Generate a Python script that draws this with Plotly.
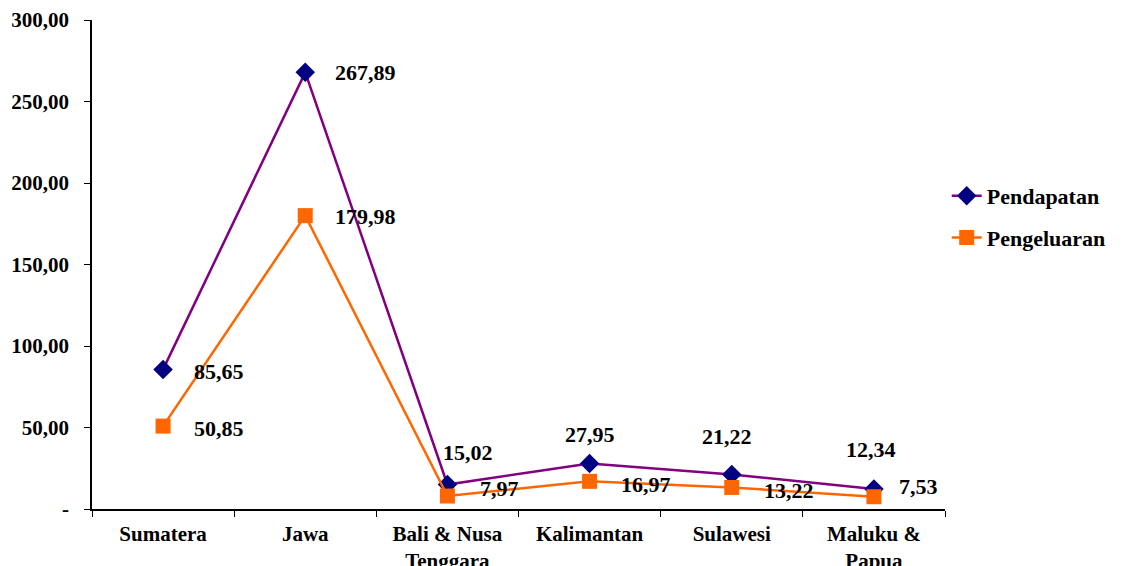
import plotly.graph_objects as go

categories = ["Sumatera", "Jawa", "Bali & Nusa<br>Tenggara", "Kalimantan", "Sulawesi", "Maluku &<br>Papua"]
pendapatan = [85.65, 267.89, 15.02, 27.95, 21.22, 12.34]
pengeluaran = [50.85, 179.98, 7.97, 16.97, 13.22, 7.53]
y_tickvals = [0, 50, 100, 150, 200, 250, 300]
y_ticktext = ["-", "50,00", "100,00", "150,00", "200,00", "250,00", "300,00"]

# label placement (pixels) - styling only
pend_anchor = ["left", "left", "center", "center", "center", "center"]
pend_dx = [29, 28, 21, 0, -5, -3]
pend_dy = [-2, 0, 32, 29, 38, 39]
peng_dx = [29, 28, 31, 29, 30, 23]
peng_dy = [-2, -1, 8, -3, -3, 10]

FONT = "Liberation Serif"

def fmt(v):
    return f"{v:.2f}".replace(".", ",")

fig = go.Figure()
fig.add_trace(go.Scatter(
    x=categories, y=pendapatan, name="Pendapatan", mode="lines+markers",
    line=dict(color="#800080", width=2.5),
    marker=dict(symbol="diamond", size=15, color="#000080", line=dict(width=0)),
    legendgroup="a",
))
fig.add_trace(go.Scatter(
    x=categories, y=pengeluaran, name="Pengeluaran", mode="lines+markers",
    line=dict(color="#FF6600", width=2.5),
    marker=dict(symbol="square", size=15, color="#FF6600", line=dict(width=0)),
    legendgroup="b",
))

annotations = []
for i, c in enumerate(categories):
    annotations.append(dict(
        x=c, y=pendapatan[i], xref="x", yref="y", text=fmt(pendapatan[i]),
        showarrow=False, xanchor=pend_anchor[i], yanchor="middle",
        xshift=pend_dx[i], yshift=pend_dy[i],
        font=dict(family=FONT, size=22, color="black", weight="bold"),
    ))
    annotations.append(dict(
        x=c, y=pengeluaran[i], xref="x", yref="y", text=fmt(pengeluaran[i]),
        showarrow=False, xanchor="left", yanchor="middle",
        xshift=peng_dx[i], yshift=peng_dy[i],
        font=dict(family=FONT, size=22, color="black", weight="bold"),
    ))

fig.update_layout(
    width=1125, height=566,
    margin=dict(l=92, r=180, t=20, b=57),
    paper_bgcolor="white", plot_bgcolor="white",
    font=dict(family=FONT, color="black", weight="bold"),
    annotations=annotations,
    showlegend=True,
    legend=dict(
        x=1.002, y=0.683, xanchor="left", yanchor="top",
        font=dict(family=FONT, size=22, color="black", weight="bold"),
        tracegroupgap=10, bgcolor="rgba(0,0,0,0)",
    ),
    xaxis=dict(
        type="category", showgrid=False, zeroline=False, automargin=False,
        showline=True, linecolor="black", linewidth=1.5,
        ticks="outside", tickson="boundaries", ticklen=6, tickcolor="black",
        ticklabelstandoff=5,
        tickfont=dict(family=FONT, size=21, color="black", weight="bold"),
        range=[-0.5, 5.5],
    ),
    yaxis=dict(
        range=[0, 300], tickvals=y_tickvals, ticktext=y_ticktext,
        showgrid=False, zeroline=False, automargin=False,
        showline=True, linecolor="black", linewidth=1.5,
        ticks="outside", ticklen=6, tickcolor="black",
        ticklabelstandoff=11,
        tickfont=dict(family=FONT, size=21, color="black", weight="bold"),
    ),
)

fig.write_html("out.html")
